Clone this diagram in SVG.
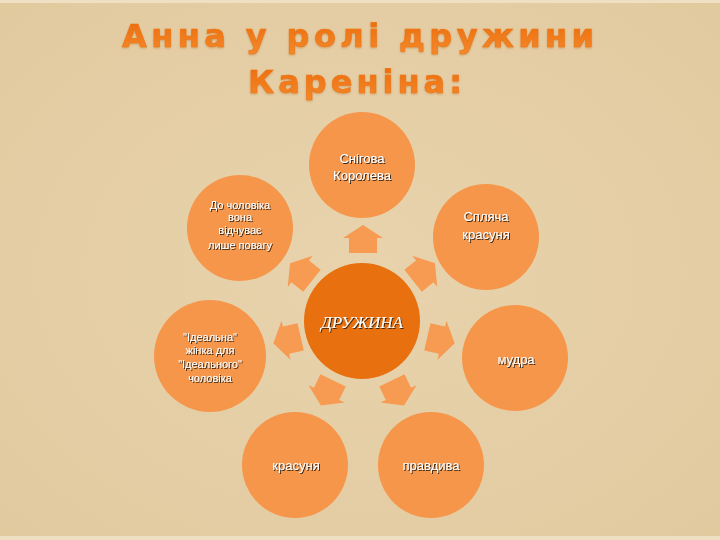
<svg xmlns="http://www.w3.org/2000/svg" width="720" height="540" viewBox="0 0 720 540">
<defs>
  <radialGradient id="bg" cx="50%" cy="50%" r="70%">
    <stop offset="0" stop-color="#E8D3AD"/>
    <stop offset="1" stop-color="#E2CA9F"/>
  </radialGradient>
  <linearGradient id="tg" x1="0" y1="0" x2="0" y2="1">
    <stop offset="0" stop-color="#EC6A0A"/>
    <stop offset="1" stop-color="#F38A2C"/>
  </linearGradient>
  <filter id="sh" x="-20%" y="-20%" width="140%" height="140%">
    <feDropShadow dx="1" dy="1" stdDeviation="0.4" flood-color="#2a1a0a" flood-opacity="0.9"/>
  </filter>
  <filter id="tsh" x="-5%" y="-20%" width="110%" height="140%">
    <feDropShadow dx="0" dy="1" stdDeviation="0.8" flood-color="#a85010" flood-opacity="0.35"/>
  </filter>
  <path id="arr" d="M0,-14 L20,-1 L14,-1 L14,14 L-14,14 L-14,-1 L-20,-1 Z"/>
</defs>
<style>
  .outer { fill: #F6964B; }
  .center { fill: #E8700F; }
  .arrow { fill: #F79A52; }
  .lbl { font-family: "Liberation Sans", Arial, sans-serif; font-size: 13px; fill: #ffffff; text-anchor: middle; filter: url(#sh); }
  .sm { font-size: 11px; }
  .title { font-family: "DejaVu Sans", Verdana, sans-serif; font-weight: bold; font-size: 32px; fill: url(#tg); stroke: #EE7414; stroke-width: 0.6; text-anchor: middle; filter: url(#tsh); }
  .main { font-family: "Liberation Serif", "Times New Roman", serif; font-style: italic; font-size: 17px; fill: #ffffff; text-anchor: middle; filter: url(#sh); }
</style>
<rect x="0" y="0" width="720" height="540" fill="url(#bg)"/>
<rect x="0" y="0" width="720" height="3" fill="#EFE0C4"/>
<rect x="0" y="536" width="720" height="4" fill="#EFE0C4"/>

<g id="title">
  <text class="title" x="358" y="47" textLength="472" lengthAdjust="spacing">Анна у ролі дружини</text>
  <text class="title" x="355" y="93" textLength="214" lengthAdjust="spacing">Кареніна:</text>
</g>

<g id="connectors">
  <use href="#arr" class="arrow" transform="translate(363,239)"/>
  <use href="#arr" class="arrow" transform="translate(424,272) rotate(51.4)"/>
  <use href="#arr" class="arrow" transform="translate(441,340) rotate(102.9)"/>
  <use href="#arr" class="arrow" transform="translate(398,393) rotate(154.3)"/>
  <use href="#arr" class="arrow" transform="translate(327,393) rotate(-154.3)"/>
  <use href="#arr" class="arrow" transform="translate(287,340) rotate(-102.9)"/>
  <use href="#arr" class="arrow" transform="translate(301,272) rotate(-51.4)"/>
</g>

<g id="node-center">
  <circle class="center" cx="362" cy="321" r="58"/>
  <text class="main" x="362" y="328">ДРУЖИНА</text>
</g>

<g id="node-top">
  <circle class="outer" cx="362" cy="165" r="53"/>
  <text class="lbl" x="362" y="163">Снігова</text>
  <text class="lbl" x="362" y="180">Королева</text>
</g>

<g id="node-top-right">
  <circle class="outer" cx="486" cy="237" r="53"/>
  <text class="lbl" x="486" y="221">Спляча</text>
  <text class="lbl" x="486" y="239">красуня</text>
</g>

<g id="node-right">
  <circle class="outer" cx="515" cy="358" r="53"/>
  <text class="lbl" x="516" y="364">мудра</text>
</g>

<g id="node-bottom-right">
  <circle class="outer" cx="431" cy="465" r="53"/>
  <text class="lbl" x="431" y="470">правдива</text>
</g>

<g id="node-bottom-left">
  <circle class="outer" cx="295" cy="465" r="53"/>
  <text class="lbl" x="296" y="470">красуня</text>
</g>

<g id="node-left">
  <circle class="outer" cx="210" cy="356" r="56"/>
  <text class="lbl sm" x="210" y="341">"Ідеальна"</text>
  <text class="lbl sm" x="210" y="354">жінка для</text>
  <text class="lbl sm" x="210" y="368">"Ідеального"</text>
  <text class="lbl sm" x="210" y="382">чоловіка</text>
</g>

<g id="node-top-left">
  <circle class="outer" cx="240" cy="228" r="53"/>
  <text class="lbl sm" x="240" y="209">До чоловіка</text>
  <text class="lbl sm" x="240" y="221">вона</text>
  <text class="lbl sm" x="240" y="234">відчуває</text>
  <text class="lbl sm" x="240" y="249">лише повагу</text>
</g>
</svg>
